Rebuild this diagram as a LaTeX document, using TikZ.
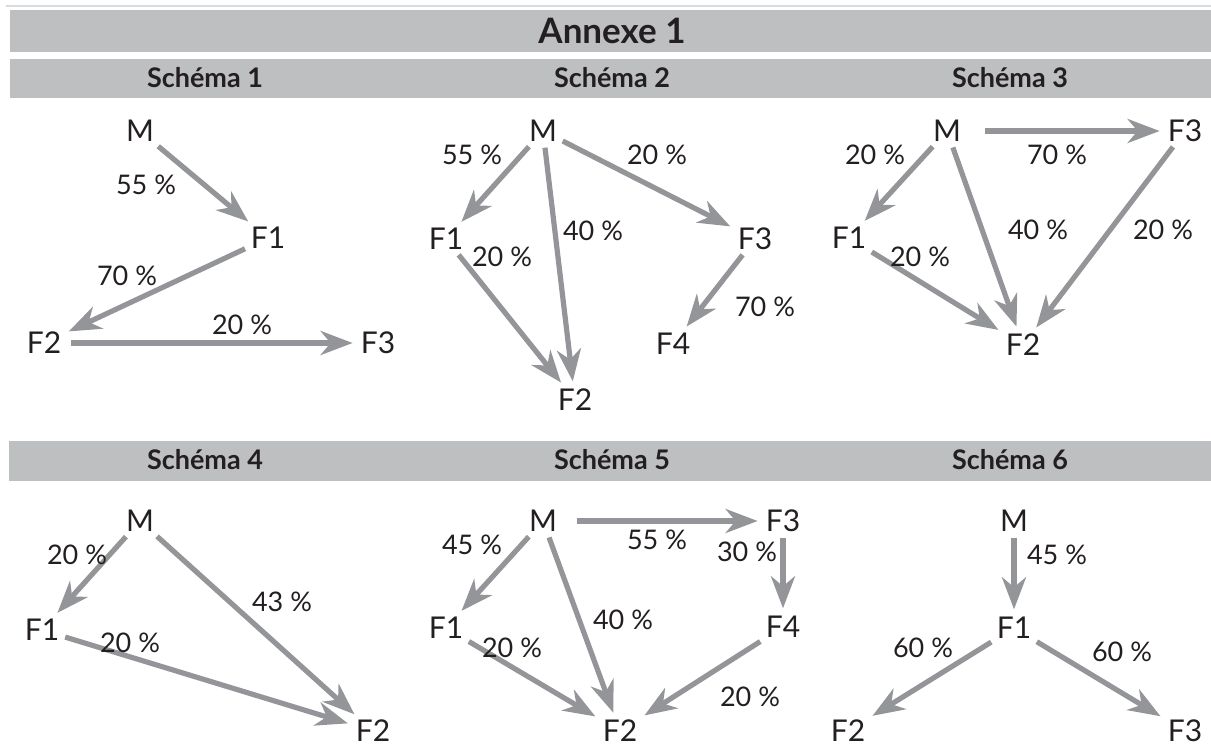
\documentclass[tikz,border=0pt]{standalone}
\usepackage{fontspec}
\setmainfont{Lato}
\usetikzlibrary{arrows.meta}
\definecolor{bandgray}{HTML}{BEBFC1}
\definecolor{rulegray}{HTML}{DADBDC}
\definecolor{arrowgray}{HTML}{939598}
\definecolor{ink}{HTML}{231F20}

\begin{document}
\begin{tikzpicture}[x=1pt,y=-1pt,
  nd/.style={font=\fontsize{30}{30}\selectfont, text=ink, inner sep=2pt,
             text height=21pt, text depth=0pt},
  lbl/.style={font=\fontsize{27}{27}\selectfont, text=ink, inner sep=0pt},
  arr/.style={draw=arrowgray, line width=5.2pt,
              -{Stealth[length=32pt,width=24pt,inset=10pt]},
              shorten <=4pt, shorten >=6pt},
  bandbox/.style={fill=bandgray, draw=white, line width=0.8pt},
  head/.style={font=\bfseries\fontsize{27}{27}\selectfont, text=ink, inner sep=0pt},
  title/.style={font=\bfseries\fontsize{35}{35}\selectfont, text=ink, inner sep=0pt}
]
\useasboundingbox (0,0) rectangle (1211,747);

% header bands
\draw[rulegray, line width=1.6pt] (6,6) -- (1211,6);
\path[bandbox] (9,9) rectangle (1212,52);
\path[bandbox] (9,58) rectangle (1212,98);
\path[bandbox] (8,440) rectangle (1212,481);
\node[title] (t0) at (612,31) {Annexe 1};
\node[head] (h1) at (205,78) {Schéma 1};
\node[head] (h2) at (612,78) {Schéma 2};
\node[head] (h3) at (1010,78) {Schéma 3};
\node[head] (h4) at (205,460) {Schéma 4};
\node[head] (h5) at (612,460) {Schéma 5};
\node[head] (h6) at (1010,460) {Schéma 6};

% Schema 1
\node[nd] (aM)  at (140,131) {M};
\node[nd] (aF1) at (268,238) {F1};
\node[nd] (aF2) at (44,343)  {F2};
\node[nd] (aF3) at (378,343) {F3};
\draw[arr] (aM) -- (aF1);
\draw[arr] (aF1) -- (aF2);
\draw[arr, shorten <=8pt] (aF2) -- (aF3);
\node[lbl] (al1) at (146,185) {55 \%};
\node[lbl] (al2) at (127,276) {70 \%};
\node[lbl] (al3) at (242,325) {20 \%};

% Schema 2
\node[nd] (bM)  at (543,131) {M};
\node[nd] (bF1) at (446,239) {F1};
\node[nd] (bF2) at (575,400) {F2};
\node[nd] (bF3) at (755,239) {F3};
\node[nd] (bF4) at (673,344) {F4};
\draw[arr] (bM) -- (bF1);
\draw[arr] (bM) -- (bF2);
\draw[arr] (bM) -- (bF3);
\draw[arr] (bF1) -- (bF2);
\draw[arr] (bF3) -- (bF4);
\node[lbl] (bl1) at (472,155) {55 \%};
\node[lbl] (bl2) at (657,155) {20 \%};
\node[lbl] (bl3) at (593,231) {40 \%};
\node[lbl] (bl4) at (502,257) {20 \%};
\node[lbl] (bl5) at (765,307) {70 \%};

% Schema 3
\node[nd] (cM)  at (947,131) {M};
\node[nd] (cF1) at (849,238) {F1};
\node[nd] (cF2) at (1023,345) {F2};
\node[nd] (cF3) at (1185,131) {F3};
\draw[arr, shorten <=22pt] (cM) -- (cF3);
\draw[arr] (cM) -- (cF1);
\draw[arr] (cM) -- (cF2);
\draw[arr] (cF1) -- (cF2);
\draw[arr] (cF3) -- (cF2);
\node[lbl] (cl1) at (875,155) {20 \%};
\node[lbl] (cl2) at (1057,155) {70 \%};
\node[lbl] (cl3) at (1038,230) {40 \%};
\node[lbl] (cl4) at (1163,230) {20 \%};
\node[lbl] (cl5) at (920,257) {20 \%};

% Schema 4
\node[nd] (dM)  at (140,521) {M};
\node[nd] (dF1) at (42,630)  {F1};
\node[nd] (dF2) at (373,731) {F2};
\draw[arr] (dM) -- (dF1);
\draw[arr] (dM) -- (dF2);
\draw[arr] (dF1) -- (dF2);
\node[lbl] (dl1) at (77,555)  {20 \%};
\node[lbl] (dl2) at (282,602) {43 \%};
\node[lbl] (dl3) at (130,643) {20 \%};

% Schema 5
\node[nd] (eM)  at (543,521) {M};
\node[nd] (eF1) at (446,628) {F1};
\node[nd] (eF2) at (620,731) {F2};
\node[nd] (eF3) at (783,521) {F3};
\node[nd] (eF4) at (783,627) {F4};
\draw[arr, shorten <=18pt] (eM) -- (eF3);
\draw[arr] (eM) -- (eF1);
\draw[arr] (eM) -- (eF2);
\draw[arr] (eF3) -- (eF4);
\draw[arr] (eF1) -- (eF2);
\draw[arr] (eF4) -- (eF2);
\node[lbl] (el1) at (472,545) {45 \%};
\node[lbl] (el2) at (657,540) {55 \%};
\node[lbl] (el3) at (747,552) {30 \%};
\node[lbl] (el4) at (623,620) {40 \%};
\node[lbl] (el5) at (512,648) {20 \%};
\node[lbl] (el6) at (750,697) {20 \%};

% Schema 6
\node[nd] (fM)  at (1014,521) {M};
\node[nd] (fF1) at (1014,628) {F1};
\node[nd] (fF2) at (848,731)  {F2};
\node[nd] (fF3) at (1185,731) {F3};
\draw[arr] (fM) -- (fF1);
\draw[arr] (fF1) -- (fF2);
\draw[arr] (fF1) -- (fF3);
\node[lbl] (fl1) at (1057,555) {45 \%};
\node[lbl] (fl2) at (923,648)  {60 \%};
\node[lbl] (fl3) at (1122,652) {60 \%};
\end{tikzpicture}
\end{document}
